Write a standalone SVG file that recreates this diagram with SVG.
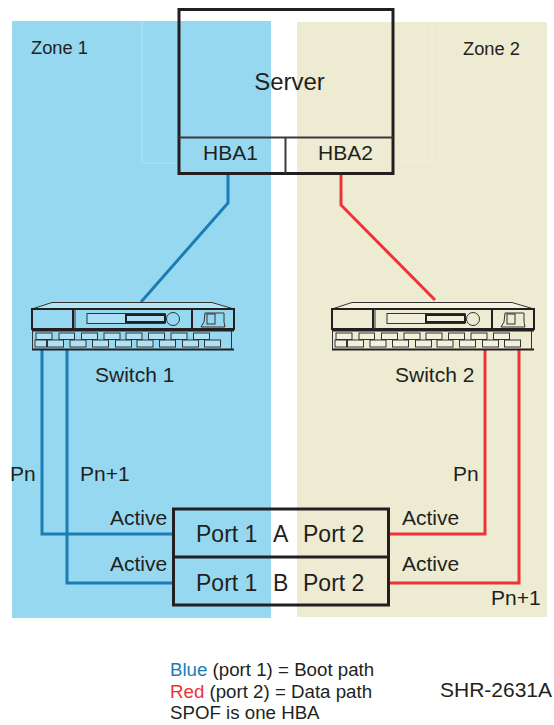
<svg xmlns="http://www.w3.org/2000/svg" width="554" height="725" viewBox="0 0 554 725">
<style>
text{font-family:"Liberation Sans",Arial,sans-serif;fill:#231f20}
.z{font-size:18.300px}.s{font-size:21px}.l{font-size:18.700px}.h{font-size:21px}.p{font-size:23px}
.box{fill:none;stroke:#231f20;stroke-width:3}
.thin{fill:none;stroke:#3a3a3a;stroke-width:2}
.blue{fill:none;stroke:#1a7db5;stroke-width:3}
.red{fill:none;stroke:#ee3338;stroke-width:3}
.sw{fill:none;stroke:#333;stroke-width:1}
.swb{fill:none;stroke:#231f20;stroke-width:2}
.faint{fill:none;stroke:#fff;stroke-opacity:.25;stroke-width:1}
</style>
<defs>
<g id="switchShape">
<path class="sw" d="M32 309L52 302.500H212L234 309Z" style="fill:#fff;fill-opacity:.3"/>
<rect class="swb" x="32" y="309" width="202" height="20"/>
<path class="swb" d="M73 309V329M192 309V329"/>
<path class="sw" d="M75 309V329"/>
<rect class="sw" x="87" y="313.500" width="78" height="10" style="fill:#fff;fill-opacity:.2"/>
<rect class="swb" x="126" y="315" width="39" height="7"/>
<circle class="sw" cx="173" cy="319" r="6.500"/>
<path class="sw" d="M205 313H224V322L225 327H201L204 322Z"/>
<rect class="sw" x="207" y="314" width="8" height="10"/>
<path class="swb" d="M32 330.500H234M32 349.500H234"/>
<path class="sw" d="M32.500 331V349M231.500 331V349"/>
<g class="sw" style="fill:#fff;fill-opacity:.25">
<rect x="36" y="333" width="16" height="6.500"/><rect x="59" y="333" width="15.500" height="6.500"/><rect x="81.500" y="333" width="16" height="6.500"/><rect x="104" y="333" width="16" height="6.500"/><rect x="126" y="333" width="16" height="6.500"/><rect x="148.500" y="333" width="16" height="6.500"/><rect x="171" y="333" width="16" height="6.500"/><rect x="193.500" y="333" width="16" height="6.500"/>
<rect x="35" y="340" width="11.500" height="7"/><rect x="47.500" y="340" width="16" height="7"/><rect x="70" y="340" width="16" height="7"/><rect x="92.500" y="340" width="16" height="7"/><rect x="115.500" y="340" width="16" height="7"/><rect x="137" y="340" width="16" height="7"/><rect x="159.500" y="340" width="16" height="7"/><rect x="182.500" y="340" width="16" height="7"/><rect x="204.500" y="340" width="16" height="7"/>
</g>
</g>
</defs>

<g id="zones">
<rect id="zone1-area" x="12" y="21" width="259" height="597" fill="#96d8f0"/>
<rect id="zone2-area" x="297" y="22" width="250" height="595" fill="#eeebd3"/>
<path class="faint" d="M142 21V163H179M393 162H432V22"/>
<text class="z" x="31" y="54">Zone 1</text>
<text class="z" x="463" y="55">Zone 2</text>
</g>

<g id="connectors">
<path class="blue" d="M228 173V203L141 302"/>
<path class="red" d="M341 173V205L435 300"/>
<path class="blue" d="M42 349V534H173"/>
<path class="blue" d="M67 349V583H174"/>
<path class="red" d="M485 349V534H389"/>
<path class="red" d="M519 349V583H389"/>
</g>

<g id="server">
<rect class="box" x="179" y="9.500" width="214" height="164"/>
<path class="thin" d="M179 137.500H393M285.500 137.500V173"/>
<text x="289.500" y="90" text-anchor="middle" style="font-size:24px">Server</text>
</g>
<g id="hba1"><text class="h" x="230.500" y="160" text-anchor="middle">HBA1</text></g>
<g id="hba2"><text class="h" x="345.500" y="160" text-anchor="middle">HBA2</text></g>

<g id="switch1">
<use href="#switchShape"/>
<text class="s" x="95" y="382">Switch 1</text>
</g>
<g id="switch2">
<use href="#switchShape" x="300"/>
<text class="s" x="395" y="382">Switch 2</text>
</g>

<g id="labels">
<text class="s" x="10" y="481">Pn</text>
<text class="s" x="80" y="481">Pn+1</text>
<text class="s" x="453" y="481">Pn</text>
<text class="s" x="491" y="605">Pn+1</text>
<text class="s" x="110" y="525">Active</text>
<text class="s" x="110" y="571">Active</text>
<text class="s" x="402" y="525">Active</text>
<text class="s" x="402" y="571">Active</text>
</g>

<g id="storage">
<rect class="box" x="173.500" y="509" width="215" height="96"/>
<path class="box" d="M173.500 557H388.500"/>
<text class="p" x="196" y="542">Port 1</text>
<text class="p" x="273" y="542">A</text>
<text class="p" x="303" y="542">Port 2</text>
<text class="p" x="196" y="591">Port 1</text>
<text class="p" x="273" y="591">B</text>
<text class="p" x="303" y="591">Port 2</text>
</g>

<g id="legend">
<text class="l" x="170" y="676"><tspan style="fill:#1a7db5">Blue</tspan> (port 1) = Boot path</text>
<text class="l" x="170" y="698"><tspan style="fill:#ee3338">Red</tspan> (port 2) = Data path</text>
<text class="l" x="170" y="719">SPOF is one HBA</text>
<text class="s" x="440" y="697">SHR-2631A</text>
</g>
</svg>
